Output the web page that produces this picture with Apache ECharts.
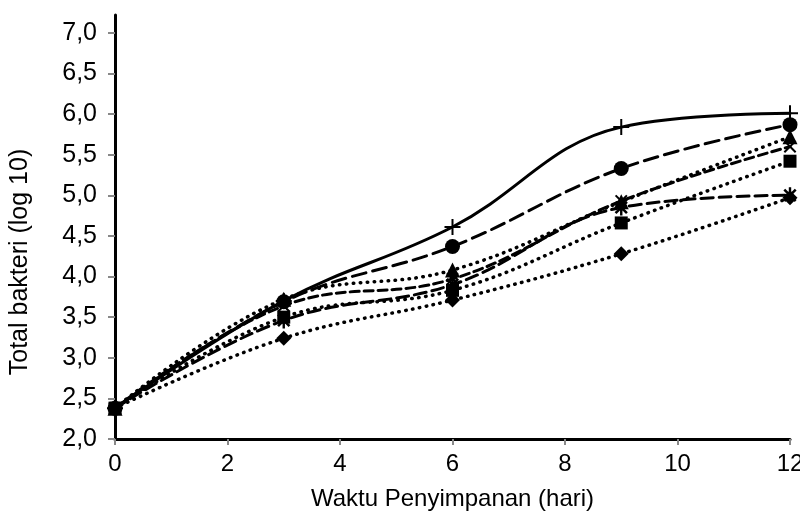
<!DOCTYPE html>
<html>
<head>
<meta charset="utf-8">
<script src="https://cdn.jsdelivr.net/npm/echarts@6/dist/echarts.min.js"></script>
<style>
  html, body { margin: 0; padding: 0; background: #fff; }
  #chart { width: 800px; height: 513px; }
</style>
</head>
<body>
<div id="chart"></div>
<script>
// storage days
var days = [0, 3, 6, 9, 12];

// total bacteria (log 10) per treatment
var plusVals = [2.38, 3.70, 4.61, 5.84, 6.01];
var circleVals = [2.38, 3.69, 4.37, 5.33, 5.87];
var triangleVals = [2.38, 3.72, 4.08, 4.92, 5.72];
var crossVals = [2.38, 3.64, 3.97, 4.93, 5.60];
var squareVals = [2.38, 3.50, 3.83, 4.66, 5.42];
var starVals = [2.38, 3.46, 3.90, 4.85, 5.00];
var diamondVals = [2.38, 3.24, 3.71, 4.28, 4.97];

var yTicks = [2, 2.5, 3, 3.5, 4, 4.5, 5, 5.5, 6, 6.5, 7];

var fontName = 'Liberation Sans';

var plusPath = 'path://M-1,-8H1V-1H8V1H1V8H-1V1H-8V-1H-1Z';
var starPath = 'path://M-1.2,-8H1.2V8H-1.2Z M-6.6,-4.8L-4.8,-6.6L6.6,4.8L4.8,6.6Z M4.8,-6.6L6.6,-4.8L-4.8,6.6L-6.6,4.8Z';

function pairs(vals) {
    return days.map(function (d, i) { return [d, vals[i]]; });
}

function makeSeries(name, vals, symbol, size, dash, rotate) {
    return {
        name: name,
        type: 'line',
        smooth: 0.4,
        data: pairs(vals),
        symbol: symbol,
        symbolSize: size,
        symbolRotate: rotate || 0,
        symbolKeepAspect: true,
        showSymbol: true,
        itemStyle: {color: '#000'},
        lineStyle: {
            color: '#000',
            width: dash === 'dot' ? 3.5 : 3,
            type: dash === 'dot' ? [0.5, 6.5] : dash,
            cap: 'round'
        }
    };
}

var chart = echarts.init(document.getElementById('chart'));

var option = {
    animation: false,
    backgroundColor: '#fff',
    grid: {left: 115, right: 10, top: 15, bottom: 74, outerBoundsMode: 'none'},
    xAxis: {
        type: 'value',
        min: 0,
        max: 12,
        interval: 2,
        name: 'Waktu Penyimpanan (hari)',
        nameLocation: 'middle',
        nameGap: 48,
        nameTextStyle: {fontFamily: fontName, fontSize: 24, color: '#000'},
        axisLine: {onZero: false, lineStyle: {color: '#000', width: 3}},
        axisTick: {show: true, length: 6, lineStyle: {color: '#888', width: 2}},
        axisLabel: {fontFamily: fontName, fontSize: 24, color: '#000', margin: 13},
        splitLine: {show: false}
    },
    yAxis: {
        type: 'value',
        min: 2,
        max: 7.22,
        name: 'Total bakteri (log 10)',
        nameLocation: 'middle',
        nameGap: 82,
        nameTextStyle: {fontFamily: fontName, fontSize: 25, color: '#000', padding: [0, 70, 0, 0]},
        axisLine: {show: true, onZero: false, lineStyle: {color: '#000', width: 3}},
        axisTick: {show: true, length: 7, customValues: yTicks, lineStyle: {color: '#888', width: 2}},
        axisLabel: {
            fontFamily: fontName, fontSize: 25, color: '#000', margin: 18,
            customValues: yTicks,
            formatter: function (v) { return v.toFixed(1).replace('.', ','); }
        },
        splitLine: {show: false}
    },
    series: [
        makeSeries('Diamond', diamondVals, 'diamond', 15, 'dot'),
        makeSeries('Star', starVals, starPath, 16, [12, 6]),
        makeSeries('Square', squareVals, 'rect', 13, 'dot'),
        makeSeries('Cross', crossVals, plusPath, 16, [9, 5], 45),
        makeSeries('Triangle', triangleVals, 'triangle', 15, 'dot'),
        makeSeries('Circle', circleVals, 'circle', 15, [14, 7]),
        makeSeries('Plus', plusVals, plusPath, 16, 'solid')
    ]
};

chart.setOption(option);
</script>
</body>
</html>
